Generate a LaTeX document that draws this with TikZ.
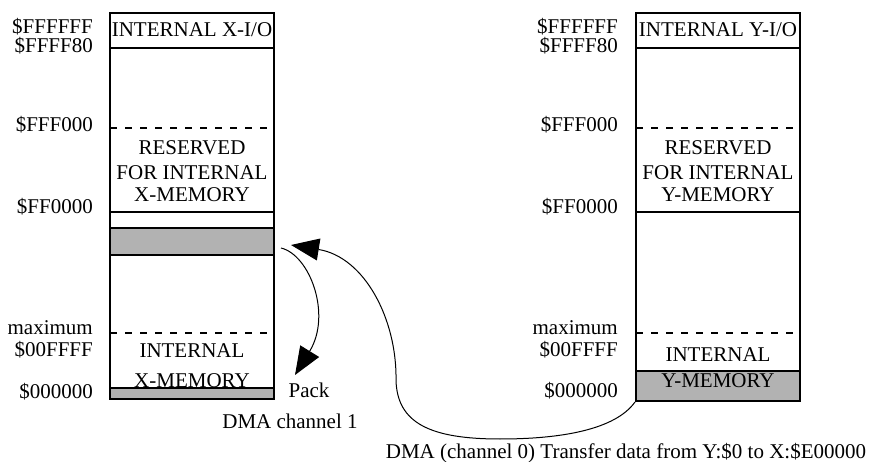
\documentclass[tikz,border=0pt]{standalone}
\usepackage{fontspec}
\setmainfont{Liberation Serif}
\usetikzlibrary{arrows.meta}

\begin{document}
\begin{tikzpicture}[x=1pt, y=-1pt,
        font=\fontsize{21}{23}\selectfont,
        addr/.style={anchor=base east, inner sep=0pt},
        memtxt/.style={anchor=base, inner sep=0pt},
        frame/.style={line width=2pt},
        sepline/.style={line width=1.5pt, dash pattern=on 7pt off 8pt},
        band/.style={draw, line width=2pt, fill=black!30, minimum width=164pt, inner sep=0pt},
        dma/.style={line width=1pt, -{Triangle[length=28pt,width=22pt]}}]
    \useasboundingbox (0,0) rectangle (873,462);

    % X memory map
    \draw[frame] (110,13) rectangle (274,399);
    \draw[frame] (110,48) -- (274,48);
    \draw[sepline] (110,128) -- (274,128);
    \draw[frame] (110,212) -- (274,212);
    \draw[sepline] (110,333) -- (274,333);
    \node[band, minimum height=27pt] (xbuf) at (192,241.5) {};
    \node[band, minimum height=11pt] (xlow) at (192,393.5) {};

    \node[memtxt] (xio) at (192,37) {INTERNAL X-I/O};
    \node[memtxt] (xres1) at (192,155) {RESERVED};
    \node[memtxt] (xres2) at (192,180) {FOR INTERNAL};
    \node[memtxt] (xres3) at (192,202) {X-MEMORY};
    \node[memtxt] (xint1) at (192,358) {INTERNAL};
    \node[memtxt] (xint2) at (192,387) {X-MEMORY};

    \node[addr] (xa1) at (93,34) {\$FFFFFF};
    \node[addr] (xa2) at (93,53) {\$FFFF80};
    \node[addr] (xa3) at (93,132) {\$FFF000};
    \node[addr] (xa4) at (93,214) {\$FF0000};
    \node[addr] (xa5) at (93,335) {maximum};
    \node[addr] (xa6) at (93,356) {\$00FFFF};
    \node[addr] (xa7) at (93,398) {\$000000};

    % Y memory map
    \draw[frame] (636,13) rectangle (800,401);
    \draw[frame] (636,48) -- (800,48);
    \draw[sepline] (636,128) -- (800,128);
    \draw[frame] (636,212) -- (800,212);
    \draw[sepline] (636,333) -- (800,333);
    \node[band, minimum height=30pt] (ymem) at (718,386) {};

    \node[memtxt] (yio) at (718,37) {INTERNAL Y-I/O};
    \node[memtxt] (yres1) at (718,155) {RESERVED};
    \node[memtxt] (yres2) at (718,180) {FOR INTERNAL};
    \node[memtxt] (yres3) at (718,202) {Y-MEMORY};
    \node[memtxt] (yint1) at (718,362) {INTERNAL};
    \node[memtxt] (yint2) at (718,388) {Y-MEMORY};

    \node[addr] (ya1) at (618,34) {\$FFFFFF};
    \node[addr] (ya2) at (618,53) {\$FFFF80};
    \node[addr] (ya3) at (618,132) {\$FFF000};
    \node[addr] (ya4) at (618,214) {\$FF0000};
    \node[addr] (ya5) at (618,335) {maximum};
    \node[addr] (ya6) at (618,356) {\$00FFFF};
    \node[addr] (ya7) at (618,397) {\$000000};

    % DMA transfers
    \node[memtxt] (pack) at (309,397) {Pack};
    \node[memtxt] (ch1) at (290,428) {DMA channel 1};
    \node[memtxt] (ch0) at (626,458.5) {DMA (channel 0) Transfer data from Y:\$0 to X:\$E00000};

    \coordinate (packtip) at (295,375);
    \draw[dma] ([shift={(6,6.5)}]xbuf.east) .. controls (310,255) and (332,315) .. (packtip);
    \draw[dma] (ymem.south west) .. controls (615,430) and (560,439) .. (500,439)
        .. controls (430,439) and (397,423) .. (396,380)
        .. controls (397,320) and (365,257) .. ([shift={(16,3.5)}]xbuf.east);
\end{tikzpicture}
\end{document}
